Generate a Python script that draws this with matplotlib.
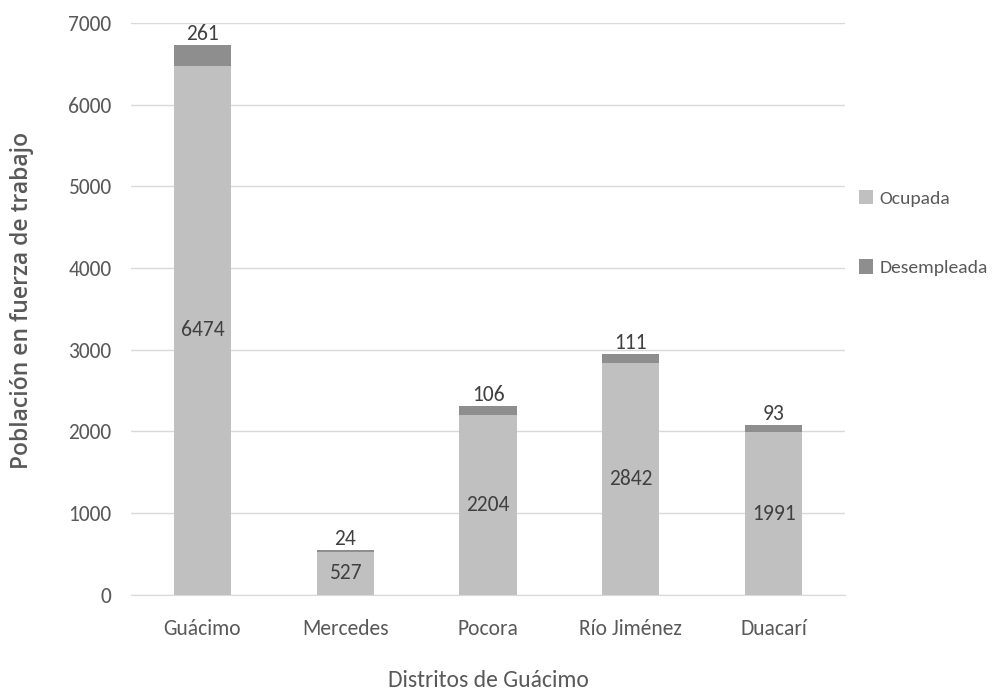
import matplotlib.pyplot as plt
import numpy as np

plt.rcParams['font.family'] = ['Carlito', 'DejaVu Sans']

distritos = ['Guácimo', 'Mercedes', 'Pocora', 'Río Jiménez', 'Duacarí']
ocupada = [6474, 527, 2204, 2842, 1991]
desempleada = [261, 24, 106, 111, 93]
y_ticks = [0, 1000, 2000, 3000, 4000, 5000, 6000, 7000]

gris_txt = '#595959'
c_ocup = '#c0c0c0'
c_desem = '#8e8e8e'

fig = plt.figure(figsize=(9.92, 6.95), dpi=100)
ax = fig.add_axes([0.132, 0.144, 0.72, 0.823])

x = np.arange(len(distritos))
ocup = np.array(ocupada)
des = np.array(desempleada)

b1 = ax.bar(x, ocup, width=0.4, color=c_ocup, label='Ocupada', zorder=3)
b2 = ax.bar(x, des, width=0.4, bottom=ocup, color=c_desem, label='Desempleada', zorder=3)

# etiquetas de valores
for i in range(len(x)):
    ax.text(x[i], ocup[i] / 2, str(ocup[i]), ha='center', va='center',
            fontsize=15.5, color='#404040', zorder=4)
    ax.text(x[i], ocup[i] + des[i] + 10, str(des[i]), ha='center', va='bottom',
            fontsize=15.5, color='#404040', zorder=4)

ax.set_xlim(-0.5, 4.5)
ax.set_ylim(0, 7000)
ax.set_yticks(y_ticks)
ax.set_xticks(x)
ax.set_xticklabels(distritos)
ax.yaxis.grid(True, color='#d9d9d9', linewidth=1, zorder=0)
for s in ['top', 'right', 'left']:
    ax.spines[s].set_visible(False)
ax.spines['bottom'].set_color('#d9d9d9')
ax.tick_params(axis='both', length=0, labelsize=15.5, colors=gris_txt)
ax.tick_params(axis='x', pad=17)
ax.tick_params(axis='y', pad=14)

ax.set_xlabel('Distritos de Guácimo', fontsize=17, color=gris_txt, labelpad=23)
fig.text(0.022, 0.568, 'Población en fuerza de trabajo', rotation=90,
         ha='center', va='center', fontsize=16.5, fontweight='semibold', color=gris_txt,
         family=['Open Sans', 'DejaVu Sans'])

fig.legend(handles=[b1, b2], labels=['Ocupada', 'Desempleada'],
           loc='upper left', bbox_to_anchor=(0.848, 0.752), frameon=False,
           fontsize=14, labelcolor=gris_txt, handlelength=0.75, handleheight=0.75,
           handletextpad=0.3, labelspacing=2.7)

fig.savefig('out.png', dpi=100, facecolor='white')
